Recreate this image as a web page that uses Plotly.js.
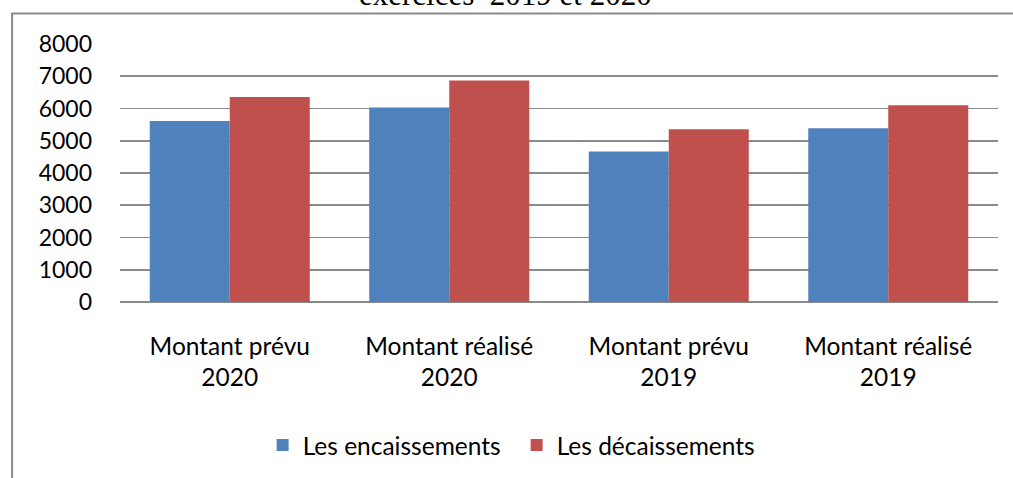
<!DOCTYPE html>
<html>
<head>
<meta charset="utf-8">
<script src="https://cdn.plot.ly/plotly-3.0.1.min.js"></script>
<style>
  html, body { margin: 0; padding: 0; background: #fff; }
  #chart { width: 1013px; height: 478px; }
</style>
</head>
<body>
<div id="chart"></div>
<script>
const categories = ["Montant prévu<br>2020", "Montant réalisé<br>2020", "Montant prévu<br>2019", "Montant réalisé<br>2019"];
const encaissements = [5610, 6030, 4670, 5385];
const decaissements = [6355, 6870, 5355, 6100];
const seriesNames = ["Les encaissements", "Les décaissements"];
const yTicks = [0, 1000, 2000, 3000, 4000, 5000, 6000, 7000, 8000];
const titleText = "exercices \u00a02019 et 2020";

const FONT = "Lato, 'Open Sans', sans-serif";
const grid = "#8a8a8a";

const traces = [
  { type: "bar", name: seriesNames[0], x: categories, y: encaissements,
    marker: { color: "#4F81BD" }, hoverinfo: "none" },
  { type: "bar", name: seriesNames[1], x: categories, y: decaissements,
    marker: { color: "#C0504D" }, hoverinfo: "none" }
];

const layout = {
  width: 1013, height: 478,
  margin: { l: 119.5, r: 15, t: 44, b: 175.5, pad: 0 },
  paper_bgcolor: "#fff", plot_bgcolor: "#fff",
  barmode: "group", bargap: 0.271, bargroupgap: 0,
  showlegend: true,
  legend: {
    orientation: "h", xref: "container", yref: "container",
    x: 0.510, xanchor: "center", y: 0.069, yanchor: "middle",
    font: { family: FONT, size: 24.5, color: "#000" },
    traceorder: "normal", entrywidth: 209, entrywidthmode: "pixels"
  },
  xaxis: {
    type: "category",
    tickfont: { family: FONT, size: 24.5, color: "#000" },
    ticks: "", showgrid: false, showline: false, zeroline: false,
    ticklabelstandoff: 27
  },
  yaxis: {
    range: [0, 8000], tickvals: yTicks, ticktext: yTicks.map(String),
    tickfont: { family: FONT, size: 23, color: "#000" },
    ticks: "", showgrid: true, gridcolor: grid, gridwidth: 1.6,
    zeroline: true, zerolinecolor: grid, zerolinewidth: 1.6,
    showline: false, ticklabelstandoff: 27
  },
  annotations: [{
    text: titleText, xref: "paper", yref: "paper",
    x: 0.4388, y: 1.116, xanchor: "center", yanchor: "bottom",
    showarrow: false,
    font: { family: "'Liberation Serif', 'Times New Roman', serif", size: 31, color: "#000" }
  }],
  shapes: [{
    type: "rect", xref: "paper", yref: "paper",
    x0: -0.1229, x1: 1.6, y0: -3, y1: 1.118,
    line: { color: "#8a8a8a", width: 2 }, fillcolor: "rgba(0,0,0,0)", layer: "below"
  }]
};

Plotly.newPlot("chart", traces, layout, { displayModeBar: false, staticPlot: true });
</script>
</body>
</html>
